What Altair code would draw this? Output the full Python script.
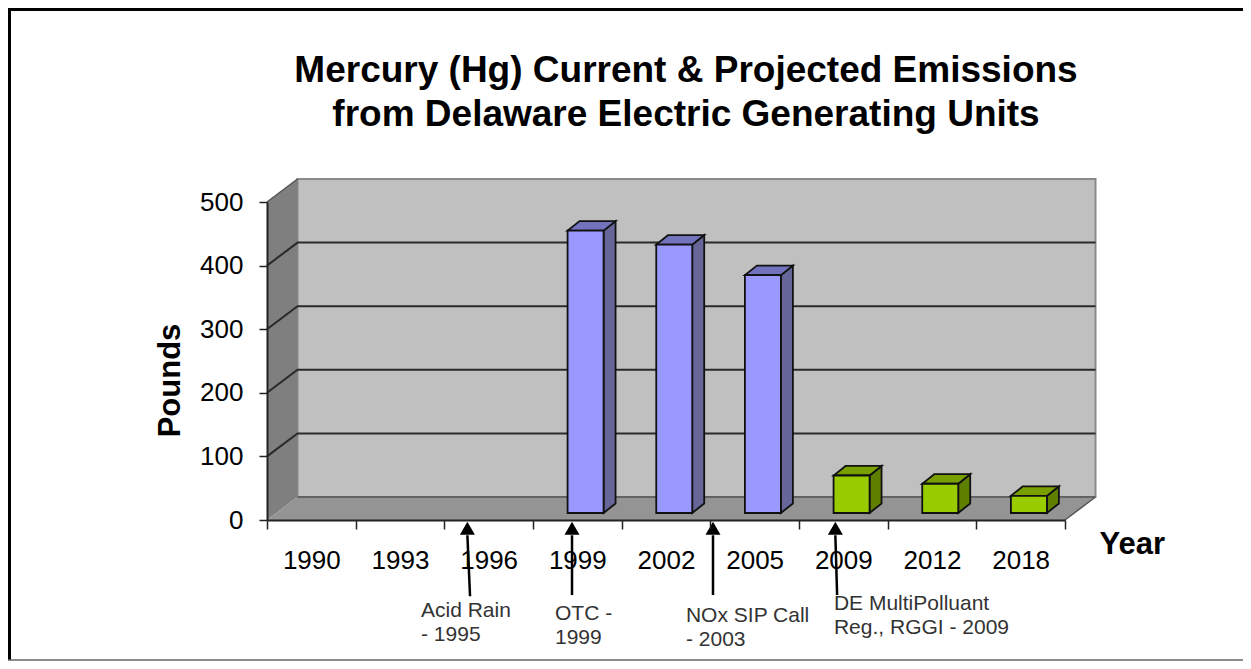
import altair as alt
import pandas as pd

years = ["1990", "1993", "1996", "1999", "2002", "2005", "2009", "2012", "2018"]
bar_slots = [3, 4, 5, 6, 7, 8]
bar_values = [444, 422, 374, 59, 46, 27]
bar_groups = ["current", "current", "current", "proj", "proj", "proj"]
grid_values = [100, 200, 300, 400]
y_ticks = [0, 100, 200, 300, 400, 500]

note_text = ["Acid Rain\n- 1995", "OTC -\n1999", "NOx SIP Call\n- 2003", "DE MultiPolluant\nReg., RGGI - 2009"]
note_x = [1.737, 3.248, 4.725, 6.394]
note_y = [-152, -158, -160, -141]
arrow_tip_x = [2.26, 3.44, 5.03, 6.41]
arrow_end_x = [2.29, 3.44, 5.03, 6.43]
arrow_tip_y = [-24, -24, -24, -24]
arrow_end_y = [-120, -118, -118, -118]

front = {"current": "#9999ff", "proj": "#99cc00"}
side = {"current": "#666699", "proj": "#5f7f00"}
top = {"current": "#7272bd", "proj": "#7a9f00"}

N = len(years)
WALL_DX, WALL_DY = 0.344, 36.2
BAR_DX, BAR_DY = 0.135, 15
BAR_W, BAR_OFF, BAR_FLOOR = 0.406, 0.39, 11
MAXV = 500

xs = alt.Scale(domain=[0, N], nice=False, zero=False)
ys = alt.Scale(domain=[0, MAXV], nice=False, zero=False)


def X(f, **k):
    return alt.X(f, type="quantitative", scale=xs, **k)


def Y(f, **k):
    return alt.Y(f, type="quantitative", scale=ys, **k)


X2 = lambda f: alt.X2(f)
Y2 = lambda f: alt.Y2(f)

x_axis = alt.Axis(
    values=[i / 2 for i in range(2 * N + 1)],
    labelExpr="datum.value % 1 ? " + str(years) + "[floor(datum.value)] : ''",
    labelFont="Liberation Sans", labelFontSize=26, labelColor="#000", labelPadding=18,
    labelOverlap=False, labelFlush=False, labelBound=False,
    tickColor="#222", tickWidth=1.5, tickSize=9, domainColor="#222", domainWidth=2,
    tickOpacity=alt.condition("datum.value % 1 == 0", alt.value(1), alt.value(0)),
    grid=False, zindex=1,
    title="Year", titleFont="Liberation Sans", titleFontSize=31, titleFontWeight="bold",
    titleX=832, titleY=33, titleAlign="left", titleBaseline="alphabetic", titleAngle=0, titleColor="#000",
)
y_axis = alt.Axis(
    values=y_ticks, labelFont="Liberation Sans", labelFontSize=26, labelColor="#000", labelPadding=16,
    tickColor="#222", tickWidth=1.5, tickSize=8, domainColor="#222", domainWidth=2,
    grid=False, zindex=1,
    title="Pounds", titleFont="Liberation Sans", titleFontSize=31, titleFontWeight="bold",
    titleX=-97, titleY=178, titleAlign="center", titleBaseline="middle", titleAngle=270, titleColor="#000",
)

# walls
back = pd.DataFrame([{"a": WALL_DX, "b": N + WALL_DX, "c": WALL_DY, "d": MAXV + WALL_DY}])
back_l = alt.Chart(back).mark_rect(fill="#c0c0c0", stroke="#8a8a8a", strokeWidth=2).encode(
    x=X("a:Q", axis=x_axis), x2=X2("b"), y=Y("c:Q", axis=y_axis), y2=Y2("d"))

left = pd.DataFrame([
    {"x": 0, "lo": 0, "hi": MAXV},
    {"x": WALL_DX, "lo": WALL_DY, "hi": MAXV + WALL_DY},
])
left_l = alt.Chart(left).mark_area(color="#7f7f7f").encode(x=X("x:Q"), y=Y("lo:Q"), y2=Y2("hi"))

floor = pd.DataFrame([
    {"y": 0, "a": 0, "b": N},
    {"y": WALL_DY, "a": WALL_DX, "b": N + WALL_DX},
])
floor_l = alt.Chart(floor).mark_area(orient="horizontal", color="#949494").encode(
    y=Y("y:Q"), x=X("a:Q"), x2=X2("b"))

grid_rows = []
for v in grid_values:
    grid_rows += [
        {"g": v, "i": 0, "x": 0, "y": v},
        {"g": v, "i": 1, "x": WALL_DX, "y": v + WALL_DY},
        {"g": v, "i": 2, "x": N + WALL_DX, "y": v + WALL_DY},
    ]
grid_l = alt.Chart(pd.DataFrame(grid_rows)).mark_line(color="#2a2a2a", strokeWidth=2).encode(
    x=X("x:Q"), y=Y("y:Q"), detail="g:N", order="i:Q")

edge_rows = []
for name, pts in {
    "topedge": [(0, MAXV), (WALL_DX, MAXV + WALL_DY)],
    "base": [(WALL_DX, WALL_DY), (N + WALL_DX, WALL_DY)],
    "right": [(N, 0), (N + WALL_DX, WALL_DY)],
}.items():
    for i, (px, py) in enumerate(pts):
        edge_rows.append({"g": name, "i": i, "x": px, "y": py})
edge_l = alt.Chart(pd.DataFrame(edge_rows)).mark_line(color="#555555", strokeWidth=1.5).encode(
    x=X("x:Q"), y=Y("y:Q"), detail="g:N", order="i:Q")

# bars
front_rows, side_rows, top_rows = [], [], []
for s, v, g in zip(bar_slots, bar_values, bar_groups):
    x0 = s + BAR_OFF
    x1 = x0 + BAR_W
    t = BAR_FLOOR + v
    front_rows.append({"a": x0, "b": x1, "c": BAR_FLOOR, "d": t, "f": front[g]})
    side_rows += [
        {"id": s, "x": x1, "lo": BAR_FLOOR, "hi": t, "f": side[g]},
        {"id": s, "x": x1 + BAR_DX, "lo": BAR_FLOOR + BAR_DY, "hi": t + BAR_DY, "f": side[g]},
    ]
    top_rows += [
        {"id": s, "y": t, "a": x0, "b": x1, "f": top[g]},
        {"id": s, "y": t + BAR_DY, "a": x0 + BAR_DX, "b": x1 + BAR_DX, "f": top[g]},
    ]

side_l = alt.Chart(pd.DataFrame(side_rows)).mark_area(stroke="#111", strokeWidth=1.8).encode(
    x=X("x:Q"), y=Y("lo:Q"), y2=Y2("hi"), detail="id:N", fill=alt.Fill("f:N", scale=None))
top_l = alt.Chart(pd.DataFrame(top_rows)).mark_area(orient="horizontal", stroke="#111", strokeWidth=1.8).encode(
    y=Y("y:Q"), x=X("a:Q"), x2=X2("b"), detail="id:N", fill=alt.Fill("f:N", scale=None))
front_l = alt.Chart(pd.DataFrame(front_rows)).mark_rect(stroke="#111", strokeWidth=1.8).encode(
    x=X("a:Q"), x2=X2("b"), y=Y("c:Q"), y2=Y2("d"), fill=alt.Fill("f:N", scale=None))

# annotations
arrows = pd.DataFrame({"tx": arrow_tip_x, "ex": arrow_end_x, "ty": arrow_tip_y, "ey": arrow_end_y})
shaft_l = alt.Chart(arrows).mark_rule(color="#000", strokeWidth=2.5).encode(
    x=X("tx:Q"), x2=X2("ex"), y=Y("ty:Q"), y2=Y2("ey"))
head_l = alt.Chart(arrows.assign(hy=[t + 11 for t in arrow_tip_y])).mark_point(
    shape="triangle-up", filled=True, color="#000", size=225, opacity=1).encode(x=X("tx:Q"), y=Y("hy:Q"))
notes = pd.DataFrame({"x": note_x, "y": note_y, "t": [t.split("\n") for t in note_text]})
notes_l = alt.Chart(notes).mark_text(
    font="Liberation Sans", fontSize=21, color="#333333", align="left", baseline="alphabetic", lineHeight=24
).encode(x=X("x:Q"), y=Y("y:Q"), text="t")

# picture frame
frame_top = alt.Chart(pd.DataFrame({"k": [0]})).mark_rule(color="#000", strokeWidth=3).encode(
    x=alt.value(-259), x2=alt.value(976), y=alt.value(-192.5))
frame_left = alt.Chart(pd.DataFrame({"k": [0]})).mark_rule(color="#000", strokeWidth=3).encode(
    x=alt.value(-257.5), y=alt.value(-194), y2=alt.value(458))
frame_bottom = alt.Chart(pd.DataFrame({"k": [0]})).mark_rule(color="#666", strokeWidth=1.5).encode(
    x=alt.value(-259), x2=alt.value(976), y=alt.value(458))

chart = alt.layer(
    back_l, left_l, floor_l, grid_l, edge_l, side_l, top_l, front_l, shaft_l, head_l, notes_l,
    frame_top, frame_left, frame_bottom,
).properties(
    width=798, height=318,
    padding={"left": 259, "top": 194, "right": 178, "bottom": 141},
    autosize=alt.AutoSizeParams(type="none"),
    title=alt.TitleParams(
        text=["Mercury (Hg) Current & Projected Emissions", "from Delaware Electric Generating Units"],
        font="Liberation Sans", fontSize=37, fontWeight="bold", color="#000", lineHeight=44,
        anchor="middle", dx=20, offset=-127, frame="group",
    ),
).configure_view(stroke=None).configure(background="white")

chart.save("out.html", embed_options={"renderer": "svg", "actions": False})
